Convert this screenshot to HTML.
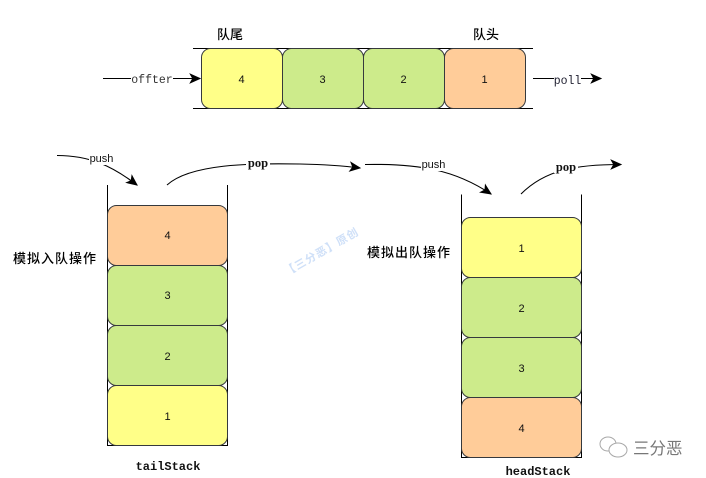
<!DOCTYPE html>
<html><head><meta charset="utf-8">
<style>
html,body{margin:0;padding:0;background:#fff}
svg{display:block}
text{font-family:"Liberation Sans","Noto Sans CJK SC",sans-serif}
.m{font-family:"Liberation Mono","Noto Sans CJK SC",monospace}
.s{font-family:"Liberation Serif","Noto Serif CJK SC",serif}
</style></head><body>
<svg width="706" height="478" viewBox="0 0 706 478" xmlns="http://www.w3.org/2000/svg">
<defs>
<marker id="a" markerUnits="userSpaceOnUse" markerWidth="14" markerHeight="12" refX="9" refY="5" orient="auto" viewBox="0 0 11 10"><path d="M0 0.5L10 5L0 9.5L2.5 5Z" fill="#000"/></marker>
</defs>
<rect width="706" height="478" fill="#fff"/>
<g stroke="#000" stroke-width="1" fill="none">
<path d="M193 48.5H533M193 108.5H533"/>
<path d="M107.5 185V445.5H227.5V185"/>
<path d="M461.5 194.5V457.5H581.5V194.5"/>
</g>
<g stroke="#36393d" stroke-width="1">
<rect x="201.5" y="48.5" width="81" height="60" rx="9" fill="#ffff88"/>
<rect x="282.5" y="48.5" width="81" height="60" rx="9" fill="#cdeb8b"/>
<rect x="363.5" y="48.5" width="81" height="60" rx="9" fill="#cdeb8b"/>
<rect x="444.5" y="48.5" width="81" height="60" rx="9" fill="#ffcc99"/>
<rect x="107.5" y="205.5" width="120" height="60" rx="9" fill="#ffcc99"/>
<rect x="107.5" y="265.5" width="120" height="60" rx="9" fill="#cdeb8b"/>
<rect x="107.5" y="325.5" width="120" height="60" rx="9" fill="#cdeb8b"/>
<rect x="107.5" y="385.5" width="120" height="60" rx="9" fill="#ffff88"/>
<rect x="461.5" y="217.5" width="120" height="60" rx="9" fill="#ffff88"/>
<rect x="461.5" y="277.5" width="120" height="60" rx="9" fill="#cdeb8b"/>
<rect x="461.5" y="337.5" width="120" height="60" rx="9" fill="#cdeb8b"/>
<rect x="461.5" y="397.5" width="120" height="60" rx="9" fill="#ffcc99"/>
</g>
<g stroke="#000" stroke-width="1.1" fill="none">
<path d="M103 78.5H200" marker-end="url(#a)"/>
<path d="M533 78.5H601" marker-end="url(#a)"/>
<path d="M57 155.500C90 155.500 112 166 137 185" marker-end="url(#a)"/>
<path d="M167 185C190 164 250 163 300 164C325 164.500 345 166 360 168" marker-end="url(#a)"/>
<path d="M365 164.500C420 163.500 455 170 491 194" marker-end="url(#a)"/>
<path d="M521 194C545 170 575 164.500 621 164.500" marker-end="url(#a)"/>
</g>
<g fill="#fff">
<rect x="131" y="72" width="42" height="14"/>
<rect x="554" y="72" width="27" height="14"/>
<rect x="89" y="151" width="25" height="14"/>
<rect x="246" y="156" width="24" height="14"/>
<rect x="421" y="158" width="25" height="13"/>
<rect x="554" y="159" width="24" height="14"/>
</g>
<g font-size="11" text-anchor="middle" fill="#111">
<text class="m" x="152" y="83" font-size="11.500" fill="#333">offter</text>
<text class="m" x="567.500" y="84" fill="#223" font-size="11.500">poll</text>
<text x="101.500" y="162" font-size="11">push</text>
<text x="433.500" y="168" font-size="11">push</text>
<text class="s" x="258" y="167" font-weight="bold" font-size="12.500">pop</text>
<text class="s" x="566" y="171" font-weight="bold" font-size="12.500">pop</text>
<text x="241.500" y="83">4</text>
<text x="322.500" y="83">3</text>
<text x="403.500" y="83">2</text>
<text x="484.500" y="83">1</text>
<text x="167.500" y="239">4</text>
<text x="167.500" y="299">3</text>
<text x="167.500" y="360">2</text>
<text x="167.500" y="420">1</text>
<text x="521.500" y="252">1</text>
<text x="521.500" y="312">2</text>
<text x="521.500" y="372">3</text>
<text x="521.500" y="432">4</text>
<text x="230" y="39" font-size="13" fill="#000" font-weight="500">队尾</text>
<text x="486" y="39" font-size="13" fill="#000" font-weight="500">队头</text>
<text x="55" y="263" font-size="13" letter-spacing="1" fill="#000" font-weight="500">模拟入队操作</text>
<text x="409" y="257" font-size="13" letter-spacing="1" fill="#000" font-weight="500">模拟出队操作</text>
<text class="m" x="168" y="470" font-size="12" font-weight="bold">tailStack</text>
<text class="m" x="538" y="475" font-size="12" font-weight="bold">headStack</text>
</g>
<text x="0" y="0" transform="translate(287 276) rotate(-30)" font-size="11" letter-spacing="1" fill="#cfe0f8" font-weight="bold">【三分恶】原创</text>
<g stroke="#a8a8a8" stroke-width="1" fill="#fff">
<ellipse cx="608" cy="444" rx="8" ry="7"/>
<ellipse cx="618" cy="450" rx="9" ry="7"/>
</g>
<text x="633" y="454" font-size="16.500" fill="#777">三分恶</text>
</svg>
</body></html>
